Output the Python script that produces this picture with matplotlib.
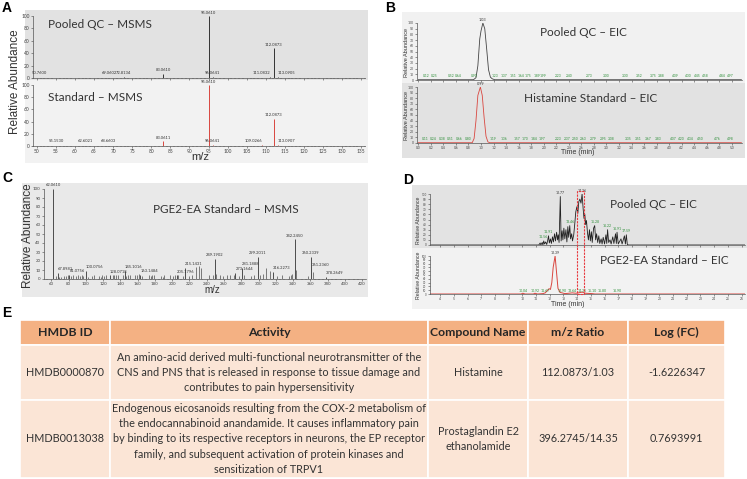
import matplotlib
matplotlib.use('Agg')
import matplotlib.pyplot as plt
import matplotlib.ticker as mt
from matplotlib.patches import Rectangle
from matplotlib.transforms import blended_transform_factory

plt.rcParams['font.family'] = ['Lato', 'DejaVu Sans']

W, H = 747, 479

# ---------------- data ----------------
# A  histamine MS/MS spectra
qc_mz = [50.7600, 69.0602, 72.8134, 83.0610, 95.0610, 96.0641, 111.0832, 112.0873, 113.0905]
qc_int = [0.6, 0.8, 1.0, 7, 100, 1.5, 1.2, 48, 1.2]
std_mz = [55.1530, 62.6021, 68.6603, 83.0611, 95.0610, 96.0641, 109.0266, 112.0873, 113.0907]
std_int = [0.5, 0.5, 0.8, 8, 100, 1.5, 1.0, 45, 2.0]

# B  histamine EIC
b_qc_t = [0.00, 0.88, 0.92, 0.95, 0.98, 1.00, 1.03, 1.06, 1.09, 1.12, 1.15, 1.18, 1.22, 5.15]
b_qc_i = [0.5, 0.5, 4, 25, 72, 86, 100, 90, 55, 18, 5, 2, 0.5, 0.5]
b_std_t = [0.00, 0.86, 0.89, 0.92, 0.95, 0.99, 1.02, 1.05, 1.08, 1.11, 1.14, 5.15]
b_std_i = [0.5, 0.5, 8, 40, 85, 100, 85, 45, 12, 2, 0.5, 0.5]
b_qc_apex = ['1.03']
b_std_apex = ['0.99']
b_qc_noise = ['0.12', '0.25', '0.52', '0.64', '0.90', '1.23', '1.37', '1.51', '1.64', '1.75', '1.89',
              '1.99', '2.23', '2.40', '2.73', '3.00', '3.30', '3.52', '3.75', '3.88', '4.09', '4.30',
              '4.45', '4.58', '4.84', '4.97']
b_std_noise = ['0.11', '0.24', '0.38', '0.51', '0.66', '0.80', '1.19', '1.36', '1.57', '1.70', '1.84',
               '1.97', '2.23', '2.37', '2.50', '2.63', '2.79', '2.95', '3.08', '3.35', '3.51', '3.67',
               '3.83', '4.07', '4.20', '4.34', '4.50', '4.76', '4.98']

# C  PGE2-EA MS/MS spectrum (labelled peaks)
c_mz = [62.0610, 67.8981, 81.0756, 100.0756, 128.0718, 145.1016, 163.1484, 205.1796, 215.1431,
        249.1902, 273.1644, 281.1888, 299.2011, 316.2273, 342.2450, 360.2339, 361.2360, 378.2649]
c_int = [100, 7, 5, 9, 4, 9, 5, 4, 12, 22, 7, 12, 25, 8, 44, 25, 11, 2]
# unlabelled fragments
c_minor_mz = [65.0, 69.1, 71.0, 75.1, 77.0, 79.1, 83.1, 85.1, 89.0, 91.1, 93.1, 95.1, 97.1, 103.1,
              107.1, 109.1, 115.1, 117.1, 119.1, 121.1, 123.1, 131.1, 133.1, 135.1, 137.1, 143.1,
              147.1, 149.1, 151.1, 157.1, 159.1, 161.1, 165.1, 173.1, 175.1, 177.1, 179.1, 187.1,
              189.1, 191.1, 197.1, 201.1, 203.1, 207.1, 213.1, 219.1, 223.1, 227.2, 231.2, 233.2,
              243.2, 247.2, 251.2, 255.2, 259.2, 263.2, 267.2, 271.2, 277.2, 283.2, 291.2, 295.2,
              301.2, 305.2, 309.2, 313.2, 321.2, 327.2, 335.2, 337.2, 339.2, 343.2, 357.2, 363.2]
c_minor_int = [3, 2, 2, 3, 3, 5, 3, 4, 3, 4, 3, 5, 3, 2, 3, 4, 3, 2, 4, 3, 5, 4, 4, 5, 4, 5,
               3, 4, 4, 4, 5, 6, 3, 4, 3, 5, 4, 3, 2, 4, 4, 3, 5, 4, 3, 3, 4, 13, 14, 12,
               4, 5, 6, 4, 3, 4, 4, 4, 3, 4, 3, 4, 5, 6, 12, 9, 3, 4, 3, 5, 6, 10, 3, 8]

# D  PGE2-EA EIC
d_qc_t = [3.3, 11.20, 11.30, 11.35, 11.45, 11.50, 11.56, 11.62, 11.70, 11.78, 11.85, 11.91, 11.97,
          12.05, 12.12, 12.20, 12.27, 12.35, 12.42, 12.50, 12.57, 12.62, 12.68, 12.77, 12.83, 12.90,
          12.96, 13.03, 13.10, 13.18, 13.25, 13.32, 13.38, 13.46, 13.52, 13.60, 13.66, 13.75, 13.82,
          13.90, 13.98, 14.05, 14.12, 14.20, 14.28, 14.36, 14.44, 14.50, 14.56, 14.62, 14.68, 14.75,
          14.82, 14.90, 14.96, 15.04, 15.10, 15.20, 15.28, 15.35, 15.42, 15.50, 15.58, 15.65, 15.75,
          15.82, 15.90, 16.00, 16.10, 16.16, 16.22, 16.30, 16.40, 16.48, 16.60, 16.68, 16.80, 16.86,
          16.91, 17.00, 17.20, 17.28, 17.45, 17.52, 17.59, 17.66, 17.75, 26.3]
d_qc_i = [0, 0, 4, 0, 5, 0, 8, 2, 6, 1, 9, 18, 4,
          12, 3, 16, 6, 22, 8, 25, 10, 20, 5, 95, 8, 28,
          10, 33, 12, 30, 6, 36, 15, 38, 12, 22, 8, 20, 40,
          65, 75, 62, 85, 90, 82, 100, 70, 52, 60, 40, 48, 25,
          10, 30, 8, 26, 5, 33, 38, 10, 22, 5, 18, 3, 12,
          2, 15, 2, 20, 3, 30, 5, 10, 2, 16, 3, 22, 3,
          25, 2, 12, 2, 18, 2, 20, 1, 0, 0]
d_qc_lbl = ['11.56', '11.91', '12.77', '13.46', '15.28', '16.22', '16.91', '17.59']
d_std_t = [3.3, 9.90, 10.04, 10.20, 10.80, 10.92, 11.10, 11.50, 11.67, 11.80, 11.95, 12.05, 12.15,
           12.25, 12.39, 12.50, 12.60, 12.75, 12.90, 13.10, 13.40, 13.64, 13.90, 14.10, 14.36, 14.60,
           15.10, 15.30, 26.3]
d_std_i = [0, 0, 2, 0, 0, 2, 0, 1, 3, 8, 14, 12, 30,
           70, 100, 55, 15, 4, 3, 1, 2, 3, 2, 3, 5, 2,
           1, 0, 0]
d_std_lbl = ['10.04', '10.92', '11.67', '12.90', '13.64', '14.36', '15.10', '15.80', '16.90']
d_window = [14.02, 14.52]

# E  table
col_labels = ['HMDB ID', 'Activity', 'Compound Name', 'm/z Ratio', 'Log (FC)']
rows = [
    ['HMDB0000870',
     'An amino-acid derived multi-functional neurotransmitter of the\n'
     'CNS and PNS that is released in response to tissue damage and\n'
     'contributes to pain hypersensitivity',
     'Histamine', '112.0873/1.03', '-1.6226347'],
    ['HMDB0013038',
     'Endogenous eicosanoids resulting from the COX-2 metabolism of\n'
     'the endocannabinoid anandamide. It causes inflammatory pain\n'
     'by binding to its respective receptors in neurons, the EP receptor\n'
     'family, and subsequent activation of protein kinases and\n'
     'sensitization of TRPV1',
     'Prostaglandin E2\nethanolamide', '396.2745/14.35', '0.7693991'],
]

# ---------------- figure ----------------
fig = plt.figure(figsize=(W / 100, H / 100), dpi=100)
bg = fig.add_axes([0, 0, 1, 1])
bg.set_xlim(0, W)
bg.set_ylim(H, 0)
bg.axis('off')

TXT = '#333333'
GREEN = '#2f8f3a'
RED = '#d9463f'
ARIAL = ['Liberation Sans', 'DejaVu Sans']


def box(x0, y0, x1, y1, fc, ec='none', lw=0):
    bg.add_patch(Rectangle((x0, y0), x1 - x0, y1 - y0, fc=fc, ec=ec, lw=lw))


def px_axes(x0, y0, x1, y1, ls=3.5):
    ax = fig.add_axes([x0 / W, 1 - y1 / H, (x1 - x0) / W, (y1 - y0) / H])
    ax.patch.set_alpha(0)
    for s in ('top', 'right'):
        ax.spines[s].set_visible(False)
    for s in ('left', 'bottom'):
        ax.spines[s].set_linewidth(0.5)
        ax.spines[s].set_color('#555555')
    ax.tick_params(labelsize=ls, length=1.5, width=0.4, pad=1, colors='#444444')
    ax.tick_params(which='minor', length=1, width=0.3)
    ax.set_ylim(0, 100)
    return ax


def letter(x, y, s):
    bg.text(x, y, s, fontsize=10, fontweight='bold', family=ARIAL, ha='left', va='center')


# ---- A ----
letter(2, 8, 'A')
box(25, 10, 368, 163, '#f2f2f2')
box(25, 10, 368, 80, '#e2e2e2')
axA1 = px_axes(33, 16, 365, 78)
axA2 = px_axes(33, 85, 365, 146)
for ax in (axA1, axA2):
    ax.set_xlim(49, 136)
    ax.xaxis.set_major_locator(mt.MultipleLocator(5))
    ax.xaxis.set_minor_locator(mt.MultipleLocator(1))
    ax.yaxis.set_major_locator(mt.MultipleLocator(20))
axA1.tick_params(labelbottom=False)
axA1.vlines(qc_mz, 0, qc_int, color='#333333', lw=0.7)
axA2.vlines(std_mz, 0, std_int, color=RED, lw=0.7)
for ax, mz, it in ((axA1, qc_mz, qc_int), (axA2, std_mz, std_int)):
    for m, v in zip(mz, it):
        ha = 'center'
        if m in (111.0832, 109.0266):
            ha = 'right'
        elif m in (113.0905, 113.0907):
            ha = 'left'
        ax.text(m, max(v, 3) + 2, f'{m:.4f}', ha=ha, va='bottom', fontsize=3,
                color='#333333', clip_on=False)
axA1.text(0.045, 0.86, 'Pooled QC \u2013 MSMS', transform=axA1.transAxes, fontsize=8.5,
          color=TXT, va='center')
axA2.text(0.045, 0.8, 'Standard \u2013 MSMS', transform=axA2.transAxes, fontsize=8.5,
          color=TXT, va='center')
bg.text(15, 82, 'Relative Abundance', rotation=90, fontsize=8.5, color=TXT,
        ha='center', va='center', family=ARIAL)
bg.text(200, 157.5, 'm/z', fontsize=8, color=TXT, ha='center', va='center', family=ARIAL)

# ---- B ----
letter(385, 8, 'B')
box(402, 12, 745, 158, '#e2e2e2')
box(402, 12, 745, 83, '#f1f1f1')
axB1 = px_axes(417, 23, 742, 80, ls=2.4)
axB2 = px_axes(417, 87, 742, 143, ls=2.4)
for ax in (axB1, axB2):
    ax.set_xlim(-0.02, 5.16)
    ax.xaxis.set_major_locator(mt.MultipleLocator(0.2))
    ax.xaxis.set_major_formatter(mt.FormatStrFormatter('%.1f'))
    ax.yaxis.set_major_locator(mt.MultipleLocator(10))
axB1.tick_params(labelbottom=False)
axB1.plot(b_qc_t, b_qc_i, color='#444444', lw=0.6)
axB2.plot(b_std_t, b_std_i, color=RED, lw=0.6)
axB1.text(float(b_qc_apex[0]), 102, b_qc_apex[0], fontsize=2.8, ha='center', va='bottom',
          color='#333333', clip_on=False)
axB2.text(float(b_std_apex[0]), 102, b_std_apex[0], fontsize=2.8, ha='center', va='bottom',
          color='#333333', clip_on=False)
for ax, labs in ((axB1, b_qc_noise), (axB2, b_std_noise)):
    for s in labs:
        ax.text(float(s), 3, s, fontsize=2.4, color=GREEN, ha='center', va='bottom')
axB1.text(0.38, 0.83, 'Pooled QC \u2013 EIC', transform=axB1.transAxes, fontsize=8.5,
          color=TXT, va='center')
axB2.text(0.33, 0.8, 'Histamine Standard \u2013 EIC', transform=axB2.transAxes, fontsize=8.5,
          color=TXT, va='center')
for yc in (52, 115):
    bg.text(406, yc, 'Relative Abundance', rotation=90, fontsize=4.0, color=TXT,
            ha='center', va='center', family=ARIAL)
bg.text(578, 153, 'Time (min)', fontsize=5, color=TXT, ha='center', va='center', family=ARIAL)

# ---- C ----
letter(2, 178, 'C')
box(22, 183, 368, 297, '#e9e9e9')
axC = px_axes(44, 189, 366, 279, ls=3.2)
axC.set_xlim(51.6, 424.4)
axC.xaxis.set_major_locator(mt.MultipleLocator(20))
axC.xaxis.set_minor_locator(mt.MultipleLocator(5))
axC.yaxis.set_major_locator(mt.MultipleLocator(10))
axC.vlines(c_minor_mz, 0, c_minor_int, color='#666666', lw=0.6)
axC.vlines(c_mz, 0, c_int, color='#4d4d4d', lw=0.7)
for m, v in zip(c_mz, c_int):
    axC.text(m, v + 2, f'{m:.4f}', ha='left' if v < 15 else 'center', va='bottom',
             fontsize=2.9, color='#333333', clip_on=False)
axC.text(0.34, 0.77, 'PGE2-EA Standard \u2013 MSMS', transform=axC.transAxes, fontsize=8.5,
         color=TXT, va='center')
bg.text(28, 236, 'Relative Abundance', rotation=90, fontsize=8.5, color=TXT,
        ha='center', va='center', family=ARIAL)
bg.text(212, 290, 'm/z', fontsize=7, color=TXT, ha='center', va='center', family=ARIAL)

# ---- D ----
letter(403, 180, 'D')
box(412, 185, 747, 309, '#f2f2f2')
box(412, 185, 747, 248, '#e3e3e3')
axD1 = px_axes(430, 194, 745, 245, ls=2.4)
axD2 = px_axes(430, 256, 745, 294, ls=2.4)
for ax in (axD1, axD2):
    ax.set_xlim(3.26, 26.25)
    ax.xaxis.set_major_locator(mt.MultipleLocator(1))
    ax.yaxis.set_major_locator(mt.MultipleLocator(10))
axD1.tick_params(labelbottom=False)
axD1.tick_params(axis='y', labelsize=2.2)
axD2.tick_params(axis='y', labelsize=2.0)
axD1.plot(d_qc_t, d_qc_i, color='#222222', lw=0.6)
axD2.plot(d_std_t, d_std_i, color=RED, lw=0.7)
for s in d_qc_lbl:
    t = float(s)
    yv = max(i for tt, i in zip(d_qc_t, d_qc_i) if abs(tt - t) < 0.05)
    axD1.text(t, yv + 3, s, fontsize=2.5, color=GREEN if yv < 60 else '#333333',
              ha='center', va='bottom')
axD1.text(14.36, 101, '14.36', fontsize=2.5, color='#333333', ha='center', va='bottom',
          clip_on=False)
for s in d_std_lbl:
    axD2.text(float(s), 3, s, fontsize=2.5, color=GREEN, ha='center', va='bottom')
axD2.text(12.39, 102, '12.39', fontsize=2.5, color='#333333', ha='center', va='bottom',
          clip_on=False)
tr = blended_transform_factory(axD1.transData, fig.transFigure)
fig.add_artist(Rectangle((d_window[0], 1 - 294 / H), d_window[1] - d_window[0], (294 - 191) / H,
                         transform=tr, fill=False, ec='#e8383d', lw=0.8, ls=(0, (2, 1))))
axD1.text(0.57, 0.8, 'Pooled QC \u2013 EIC', transform=axD1.transAxes, fontsize=8.5,
          color=TXT, va='center')
axD2.text(0.54, 0.88, 'PGE2-EA Standard \u2013 EIC', transform=axD2.transAxes, fontsize=8.5,
          color=TXT, va='center')
for yc in (220, 275):
    bg.text(418, yc, 'Relative Abundance', rotation=90, fontsize=3.8, color=TXT,
            ha='center', va='center', family=ARIAL)
bg.text(568, 304.5, 'Time (min)', fontsize=5, color=TXT, ha='center', va='center', family=ARIAL)

# ---- E ----
letter(2, 313, 'E')
col_x = [20, 110, 428, 528, 628, 725]
row_y = [320, 345, 400, 478]
for j in range(5):
    x0, x1 = col_x[j], col_x[j + 1]
    box(x0, row_y[0], x1, row_y[1], '#f4b183', ec='white', lw=1.2)
    bg.text((x0 + x1) / 2, (row_y[0] + row_y[1]) / 2, col_labels[j], fontsize=8.8,
            fontweight='bold', color='#262626', ha='center', va='center')
    for r, row in enumerate(rows):
        y0, y1 = row_y[r + 1], row_y[r + 2]
        box(x0, y0, x1, y1, '#fbe5d6', ec='white', lw=1.2)
        bg.text((x0 + x1) / 2, (y0 + y1) / 2, row[j], fontsize=7.8, color='#333333',
                ha='center', va='center', linespacing=1.45)

fig.savefig('out.png', dpi=100)
